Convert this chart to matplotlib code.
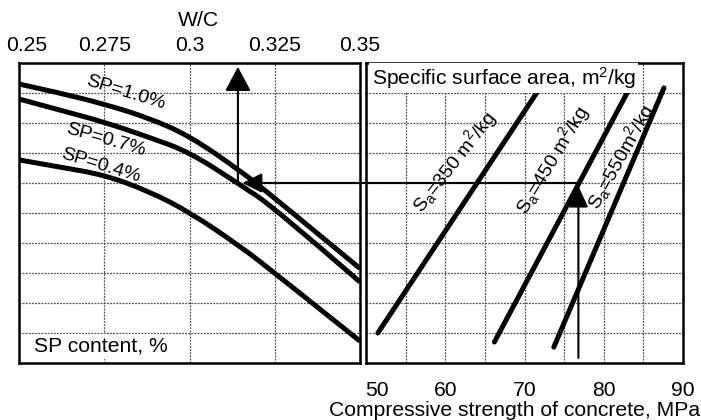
import matplotlib
matplotlib.use("Agg")
import matplotlib.pyplot as plt
import matplotlib.transforms as mtransforms
from matplotlib.patches import ConnectionPatch, PathPatch
from matplotlib.path import Path

plt.rcParams["font.family"] = ["Liberation Sans", "DejaVu Sans"]
plt.rcParams["mathtext.default"] = "regular"

# ---- left panel: W/C ratio vs. superplasticizer content ----
wc_ticks = [0.25, 0.275, 0.3, 0.325, 0.35]
wc_tick_labels = ["0.25", "0.275", "0.3", "0.325", "0.35"]
wc_points = [0.250, 0.262, 0.275, 0.288, 0.300, 0.315, 0.325, 0.350]
sp_10 = [9.30, 9.00, 8.63, 8.17, 7.57, 6.40, 5.50, 3.15]
sp_07 = [8.80, 8.43, 8.03, 7.53, 7.03, 5.93, 5.17, 2.70]
sp_04 = [6.77, 6.53, 6.27, 5.73, 5.03, 3.88, 3.00, 0.73]
sp_labels = ["SP=1.0%", "SP=0.7%", "SP=0.4%"]

# ---- right panel: compressive strength vs. specific surface area ----
strength_ticks = [50, 60, 70, 80, 90]
strength_tick_labels = ["50", "60", "70", "80", "90"]
sa_350_x = [51.5, 71.6]
sa_350_y = [1.0, 9.03]
sa_450_x = [66.2, 83.0]
sa_450_y = [0.7, 9.03]
sa_550_x = [73.7, 87.6]
sa_550_y = [0.53, 9.17]
sa_labels = [r"S$_a$=350 m$^2$/kg", r"S$_a$=450 m$^2$/kg", r"S$_a$=550m$^2$/kg"]

# worked example through the nomogram
example_wc = 0.3142
example_level = 6.0
example_strength = 76.8

FS = 15.2
CURVE_LW = 3.6
GRID_KW = dict(color="#505050", linestyle=(0, (1.5, 1)), linewidth=0.9)


def smooth_path(xs, ys):
    """Quadratic-Bezier path using the given points as control points."""
    pts = list(zip(xs, ys))
    verts = [pts[0]]
    codes = [Path.MOVETO]
    for i in range(1, len(pts) - 2):
        mid = ((pts[i][0] + pts[i + 1][0]) / 2, (pts[i][1] + pts[i + 1][1]) / 2)
        verts += [pts[i], mid]
        codes += [Path.CURVE3, Path.CURVE3]
    verts += [pts[-2], pts[-1]]
    codes += [Path.CURVE3, Path.CURVE3]
    return Path(verts, codes)


fig = plt.figure(figsize=(7.01, 4.20), dpi=100)
ax_l = fig.add_axes([19 / 701, 57 / 420, 341 / 701, 300 / 420])
ax_r = fig.add_axes([366 / 701, 57 / 420, 317 / 701, 300 / 420])

for ax in (ax_l, ax_r):
    ax.set_ylim(0, 10)
    ax.set_yticks(range(0, 11))
    ax.set_yticklabels([])
    ax.tick_params(axis="both", which="both", length=0)
    for s in ax.spines.values():
        s.set_linewidth(1.8)
        s.set_color("black")
    ax.grid(True, which="both", **GRID_KW)
    ax.set_axisbelow(True)

# left panel axes
ax_l.set_xlim(0.25, 0.35)
ax_l.set_xticks(wc_ticks)
ax_l.set_xticklabels(wc_tick_labels, fontsize=FS)
ax_l.xaxis.tick_top()
ax_l.tick_params(axis="x", pad=6)
first = ax_l.get_xticklabels()[0]
first.set_transform(first.get_transform() +
                    mtransforms.ScaledTranslation(8 / 100, 0, fig.dpi_scale_trans))

for ys in (sp_10, sp_07, sp_04):
    ax_l.add_patch(PathPatch(smooth_path(wc_points, ys), fill=False,
                             edgecolor="black", lw=CURVE_LW, capstyle="butt",
                             joinstyle="round"))

sp_pos = [(0.2814, 9.02, -17), (0.2755, 7.43, -16), (0.2740, 6.57, -17)]
for lab, (x, y, rot) in zip(sp_labels, sp_pos):
    ax_l.text(x, y, lab, fontsize=14, rotation=rot, rotation_mode="anchor",
              ha="center", va="center")

ax_l.text(0.2545, 0.55, "SP content, %", fontsize=FS, ha="left", va="center",
          bbox=dict(facecolor="white", edgecolor="none", pad=2))

# right panel axes
ax_r.set_xlim(50, 90)
ax_r.set_xticks(strength_ticks)
ax_r.set_xticks(range(55, 90, 10), minor=True)
ax_r.set_xticklabels(strength_tick_labels, fontsize=FS)
ax_r.tick_params(axis="x", pad=13)
lab50 = ax_r.get_xticklabels()[0]
lab50.set_transform(lab50.get_transform() +
                    mtransforms.ScaledTranslation(11 / 100, 0, fig.dpi_scale_trans))

for xs, ys in ((sa_350_x, sa_350_y), (sa_450_x, sa_450_y), (sa_550_x, sa_550_y)):
    ax_r.plot(xs, ys, color="black", lw=CURVE_LW, solid_capstyle="round")

sa_pos = [(61.1, 6.70, 52), (73.5, 6.77, 59), (82.2, 6.87, 61)]
for lab, (x, y, rot) in zip(sa_labels, sa_pos):
    ax_r.text(x, y, lab, fontsize=14, rotation=rot, rotation_mode="anchor",
              ha="center", va="center")

ax_r.text(50.7, 9.92, "Specific surface area, m$^2$/kg", fontsize=FS,
          ha="left", va="top",
          bbox=dict(facecolor="white", edgecolor="none", pad=1.5))

# worked example arrows
arrow_kw = dict(color="black", lw=1.5, shrinkA=0, shrinkB=0)
ax_l.annotate("", xy=(example_wc, 9.87), xytext=(example_wc, example_level),
              arrowprops=dict(arrowstyle="-|>,head_length=0.75,head_width=0.4",
                              mutation_scale=20, **arrow_kw))
ax_r.annotate("", xy=(example_strength, 5.9), xytext=(example_strength, 0.17),
              arrowprops=dict(arrowstyle="-|>,head_length=0.65,head_width=0.3",
                              mutation_scale=20, **arrow_kw))
con = ConnectionPatch(xyA=(example_strength, example_level), coordsA=ax_r.transData,
                      xyB=(example_wc + 0.0013, example_level), coordsB=ax_l.transData,
                      arrowstyle="-|>,head_length=0.6,head_width=0.3",
                      mutation_scale=20, color="black", lw=1.5,
                      shrinkA=0, shrinkB=0, zorder=5)
fig.add_artist(con)

# axis titles
fig.text(198 / 701, 1 - 21 / 420, "W/C", fontsize=FS, ha="center", va="center")
fig.text(700 / 701, 1 - 410 / 420, "Compressive strength of concrete, MPa",
         fontsize=FS, ha="right", va="center")

fig.savefig("out.png", dpi=100)
